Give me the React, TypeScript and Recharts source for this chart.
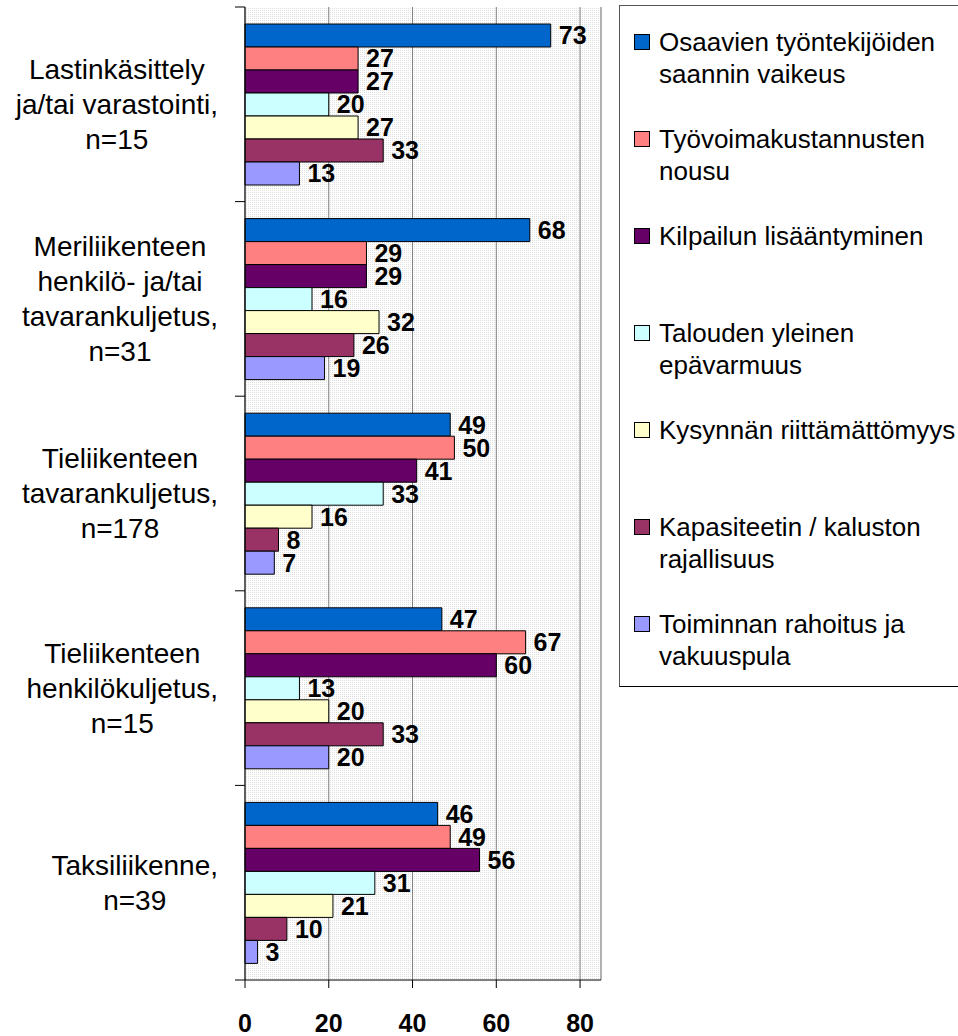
import React from 'react'
import { BarChart, Bar, XAxis, YAxis, CartesianGrid, Legend, LabelList, ReferenceLine } from 'recharts'

const categories = [
  'Lastinkäsittely\nja/tai varastointi,\nn=15',
  'Meriliikenteen\nhenkilö- ja/tai\ntavarankuljetus,\nn=31',
  'Tieliikenteen\ntavarankuljetus,\nn=178',
  'Tieliikenteen\nhenkilökuljetus,\nn=15',
  'Taksiliikenne,\nn=39',
]

const osaavien = [73, 68, 49, 47, 46]
const tyovoima = [27, 29, 50, 67, 49]
const kilpailu = [27, 29, 41, 60, 56]
const talous = [20, 16, 33, 13, 31]
const kysynta = [27, 32, 16, 20, 21]
const kapasiteetti = [33, 26, 8, 33, 10]
const rahoitus = [13, 19, 7, 20, 3]

const xTicks = [0, 20, 40, 60, 80]

const series = [
  { key: 'osaavien', name: 'Osaavien työntekijöiden\nsaannin vaikeus', color: '#0066CC', values: osaavien },
  { key: 'tyovoima', name: 'Työvoimakustannusten\nnousu', color: '#FF8080', values: tyovoima },
  { key: 'kilpailu', name: 'Kilpailun lisääntyminen', color: '#660066', values: kilpailu },
  { key: 'talous', name: 'Talouden yleinen\nepävarmuus', color: '#CCFFFF', values: talous },
  { key: 'kysynta', name: 'Kysynnän riittämättömyys', color: '#FFFFCC', values: kysynta },
  { key: 'kapasiteetti', name: 'Kapasiteetin / kaluston\nrajallisuus', color: '#993366', values: kapasiteetti },
  { key: 'rahoitus', name: 'Toiminnan rahoitus ja\nvakuuspula', color: '#9999FF', values: rahoitus },
]

const data = categories.map((c, i) => {
  const row: Record<string, string | number> = { category: c }
  series.forEach((s) => (row[s.key] = s.values[i]))
  return row
})

const FONT = "'Liberation Sans', Arial, sans-serif"
const PLOT_LEFT = 245

let ctx: CanvasRenderingContext2D | null = null
function textWidth(t: string, font: string) {
  if (!ctx) ctx = document.createElement('canvas').getContext('2d')
  if (!ctx) return t.length * 14
  ctx.font = font
  return ctx.measureText(t).width
}

// category label block: lines centred on each other, block right-aligned near the axis
function CategoryTick(props: any) {
  const { y, payload, index } = props
  const lines = String(payload.value).split('\n')
  const maxW = Math.max(...lines.map((l) => textWidth(l, `28px ${FONT}`)))
  const cx = PLOT_LEFT - 27 - maxW / 2
  const half = payload.offset ?? 97.3
  const lh = 35
  const top = y - ((lines.length - 1) * lh) / 2
  return (
    <g>
      <line x1={PLOT_LEFT - 10} x2={PLOT_LEFT} y1={y - half} y2={y - half} stroke="#000" />
      {index === categories.length - 1 && (
        <line x1={PLOT_LEFT - 10} x2={PLOT_LEFT} y1={y + half} y2={y + half} stroke="#000" />
      )}
      <text textAnchor="middle" fontSize={28} fontFamily={FONT} fill="#000">
        {lines.map((l, i) => (
          <tspan key={i} x={cx} y={top + i * lh} dy="0.35em">
            {l}
          </tspan>
        ))}
      </text>
    </g>
  )
}

function BoxLegend() {
  return (
    <div
      style={{
        border: '1px solid #555',
        borderBottomColor: '#000',
        width: 345,
        height: 682,
        boxSizing: 'border-box',
        paddingTop: 20,
        fontFamily: FONT,
        fontSize: 26,
        lineHeight: '32px',
        color: '#000',
        background: '#fff',
      }}
    >
      {series.map((s) => (
        <div key={s.key} style={{ position: 'relative', height: 97 }}>
          <span
            style={{
              position: 'absolute',
              left: 14,
              top: 8,
              width: 16,
              height: 16,
              boxSizing: 'border-box',
              border: '1px solid #000',
              background: s.color,
            }}
          />
          <div style={{ position: 'absolute', left: 39, top: 0, whiteSpace: 'pre' }}>{s.name}</div>
        </div>
      ))}
    </div>
  )
}

export default function App() {
  return (
    <div style={{ position: 'absolute', left: 0, top: 0, width: 958, height: 1036, overflow: 'hidden', background: '#fff' }}>
      <BarChart
        width={958}
        height={1036}
        data={data}
        layout="vertical"
        margin={{ top: 7, right: 357, bottom: 0, left: 0 }}
        barCategoryGap={17}
        barGap={0}
      >
        <defs>
          <pattern id="dots" width={2} height={2} patternUnits="userSpaceOnUse">
            <rect width={2} height={2} fill="#fff" />
            <rect width={1} height={1} fill="#dedede" />
          </pattern>
        </defs>
        <CartesianGrid horizontal={false} stroke="#808080" fill="url(#dots)" />
        <XAxis
          type="number"
          domain={[0, 85]}
          ticks={xTicks}
          height={56}
          tickSize={8}
          tickMargin={26}
          axisLine={{ stroke: '#000' }}
          tickLine={{ stroke: '#000' }}
          tick={{ fontSize: 25, fontWeight: 'bold', fill: '#000', fontFamily: FONT }}
        />
        <YAxis
          type="category"
          dataKey="category"
          width={PLOT_LEFT}
          axisLine={{ stroke: '#000' }}
          tickLine={false}
          tick={(p: any) => <CategoryTick {...p} />}
          interval={0}
        />
        <ReferenceLine x={85} stroke="#a8a8a8" />
        <Legend
          layout="horizontal"
          verticalAlign="middle"
          align="center"
          content={() => <BoxLegend />}
          wrapperStyle={{ left: 619, top: 5, width: 345, margin: 0 }}
        />
        {series.map((s) => (
          <Bar key={s.key} dataKey={s.key} name={s.name} fill={s.color} stroke="#000" strokeWidth={1} isAnimationActive={false}>
            <LabelList
              dataKey={s.key}
              position="right"
              offset={8}
              fill="#000"
              fontSize={25}
              fontWeight="bold"
              fontFamily={FONT}
            />
          </Bar>
        ))}
      </BarChart>
    </div>
  )
}
